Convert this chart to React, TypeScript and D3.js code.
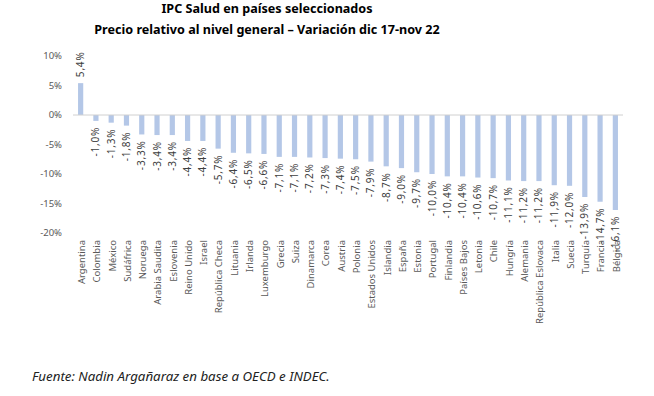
import { useRef, useEffect } from 'react';
import * as d3 from 'd3';

const countries = [
  'Argentina', 'Colombia', 'México', 'Sudáfrica', 'Noruega', 'Arabia Saudita', 'Eslovenia',
  'Reino Unido', 'Israel', 'República Checa', 'Lituania', 'Irlanda', 'Luxemburgo', 'Grecia',
  'Suiza', 'Dinamarca', 'Corea', 'Austria', 'Polonia', 'Estados Unidos', 'Islandia', 'España',
  'Estonia', 'Portugal', 'Finlandia', 'Países Bajos', 'Letonia', 'Chile', 'Hungría', 'Alemania',
  'República Eslovaca', 'Italia', 'Suecia', 'Turquía', 'Francia', 'Bélgica',
];
const values = [
  5.4, -1.0, -1.3, -1.8, -3.3, -3.4, -3.4, -4.4, -4.4, -5.7, -6.4, -6.5, -6.6, -7.1, -7.1, -7.2,
  -7.3, -7.4, -7.5, -7.9, -8.7, -9.0, -9.7, -10.0, -10.4, -10.4, -10.6, -10.7, -11.1, -11.2, -11.2,
  -11.9, -12.0, -13.9, -14.7, -16.1,
];
const yTicks = [10, 5, 0, -5, -10, -15, -20];

export default function App() {
  const svgRef = useRef<SVGSVGElement>(null);

  useEffect(() => {
    const svg = d3.select(svgRef.current);
    svg.selectAll('*').remove();
    const font = "'Noto Sans', sans-serif";
    const data = countries.map((c, i) => ({ country: c, value: values[i] }));

    const xScale = d3.scaleBand().domain(countries).range([73, 623]).paddingInner(0.66).paddingOuter(0.33);
    const yScale = d3.scaleLinear().domain([-20, 10]).range([233, 56]);

    // titles
    svg.append('text').attr('x', 267).attr('y', 13).attr('text-anchor', 'middle')
      .attr('font-family', font).attr('font-weight', 'bold').attr('font-size', 12.6).attr('fill', '#000')
      .text('IPC Salud en países seleccionados');
    svg.append('text').attr('x', 267).attr('y', 34).attr('text-anchor', 'middle')
      .attr('font-family', font).attr('font-weight', 'bold').attr('font-size', 12.6).attr('fill', '#000')
      .text('Precio relativo al nivel general – Variación dic 17-nov 22');

    // y axis labels
    svg.append('g').selectAll('text').data(yTicks).join('text')
      .attr('x', 62).attr('y', (d) => yScale(d)).attr('dy', '0.35em').attr('text-anchor', 'end')
      .attr('font-family', font).attr('font-size', 9.5).attr('fill', '#595959')
      .text((d) => `${d}%`);

    // bars
    svg.append('g').selectAll('rect').data(data).join('rect')
      .attr('x', (d) => xScale(d.country)!)
      .attr('width', xScale.bandwidth())
      .attr('y', (d) => yScale(Math.max(0, d.value)))
      .attr('height', (d) => Math.abs(yScale(d.value) - yScale(0)))
      .attr('fill', '#b4c7e7');

    // zero line
    svg.append('line').attr('x1', 73).attr('x2', 623).attr('y1', yScale(0)).attr('y2', yScale(0))
      .attr('stroke', '#d0d0d0').attr('stroke-width', 1);

    const cx = (c: string) => xScale(c)! + xScale.bandwidth() / 2;
    const fmt = (v: number) => `${d3.format('.1f')(v).replace('.', ',').replace('−', '-')}%`;

    // data labels
    svg.append('g').selectAll('text').data(data).join('text')
      .attr('transform', (d) => {
        const y = d.value >= 0 ? yScale(d.value) - 6 : yScale(d.value) + 6;
        return `translate(${cx(d.country)},${y}) rotate(-90)`;
      })
      .attr('dy', '0.35em')
      .attr('text-anchor', (d) => (d.value >= 0 ? 'start' : 'end'))
      .attr('font-family', font).attr('font-size', 10).attr('letter-spacing', 0.8).attr('fill', '#404040')
      .text((d) => fmt(d.value));

    // category labels
    svg.append('g').selectAll('text').data(countries).join('text')
      .attr('transform', (d) => `translate(${cx(d) + 1},240) rotate(-90)`)
      .attr('dy', '0.35em')
      .attr('text-anchor', 'end')
      .attr('font-family', font).attr('font-size', 9.5).attr('fill', '#595959')
      .text((d) => d);

    // source
    svg.append('text').attr('x', 32).attr('y', 381)
      .attr('font-family', font).attr('font-style', 'italic').attr('font-size', 13.3).attr('fill', '#222')
      .text('Fuente: Nadin Argañaraz en base a OECD e INDEC.');
  }, []);

  return (
    <div>
      <svg ref={svgRef} width={654} height={396} style={{ position: 'absolute', left: 0, top: 0, background: '#fff' }} />
    </div>
  );
}
